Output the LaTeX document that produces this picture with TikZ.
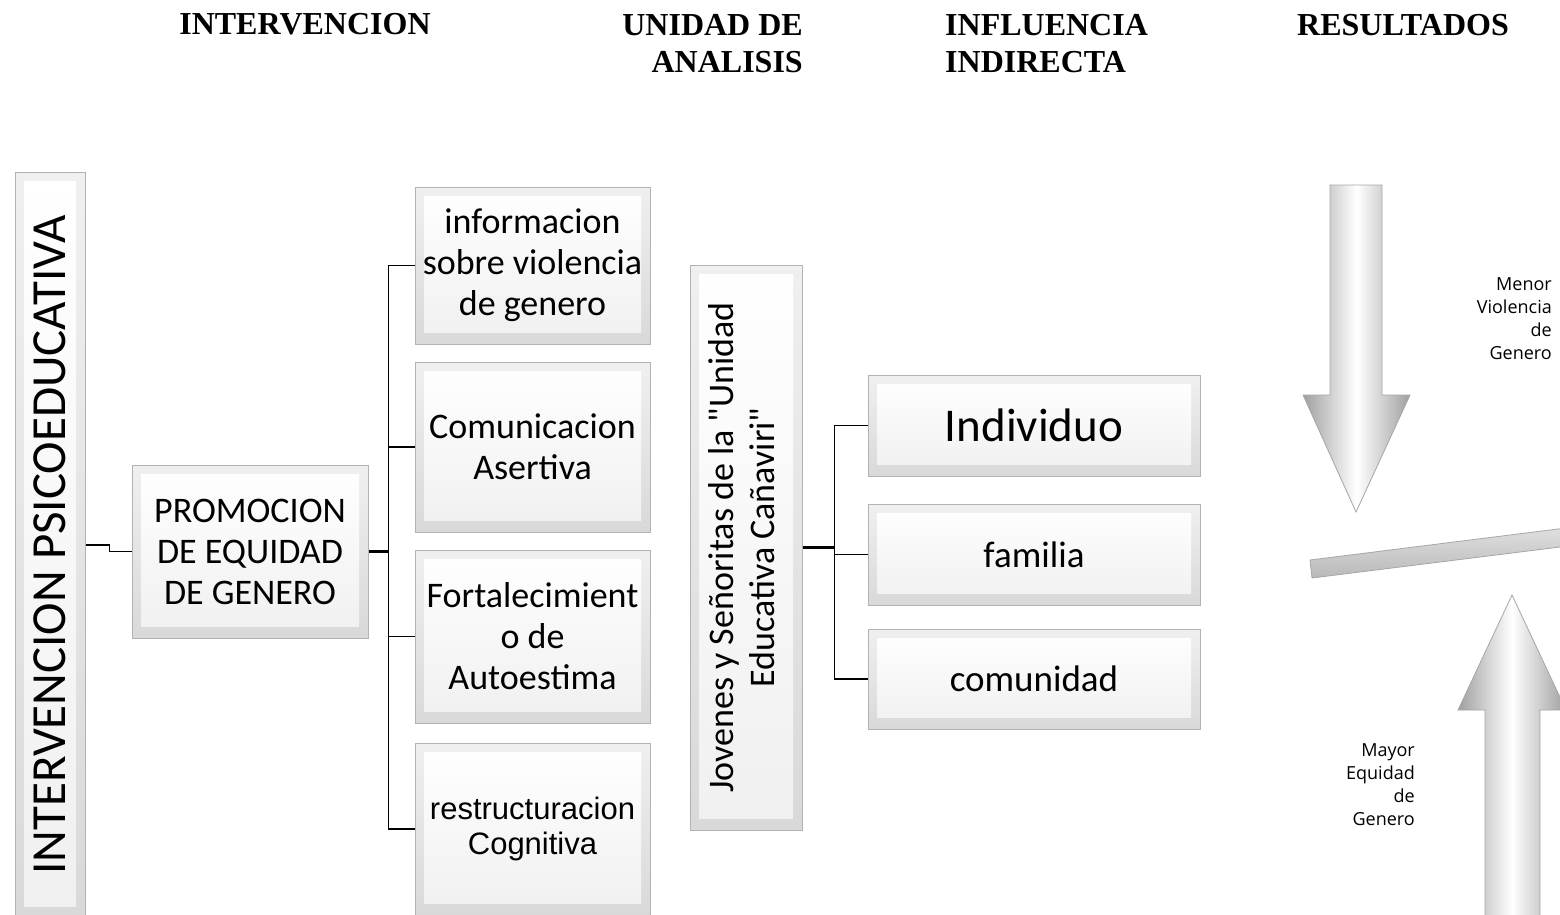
\documentclass[tikz,border=0pt]{standalone}
\usepackage{fontspec}
\usepackage{graphicx}
\setmainfont{Carlito}[Ligatures=TeXOff]
\newfontfamily\arialfont{Liberation Sans}
\newfontfamily\timesfont{Liberation Serif}
\newfontfamily\labelfont{Open Sans}
\usetikzlibrary{positioning}

\tikzset{
  bevel/.style={draw=gray!60, line width=1pt, top color=gray!12, bottom color=gray!30,
    inner sep=2pt, align=center, font=\fontsize{36}{41}\selectfont,
    path picture={
      \shade[top color=white, bottom color=gray!12]
        ([shift={(9pt,-9pt)}]path picture bounding box.north west) rectangle
        ([shift={(-9pt,12pt)}]path picture bounding box.south east);
    }},
  heading/.style={font=\timesfont\bfseries\fontsize{32}{37}\selectfont, inner sep=0pt},
  outcome/.style={font=\labelfont\fontsize{18}{23}\selectfont, align=right, inner sep=0pt},
  link/.style={line width=1.4pt},
  trunk/.style={line width=2.2pt},
  arrowbody/.style={draw=gray!70, line width=0.8pt, left color=gray!75,
    right color=gray!75, middle color=white},
}

\begin{document}
\begin{tikzpicture}[x=1pt, y=-1pt]
    \useasboundingbox (0, 0) rectangle (1560, 915);
    \clip (0, 0) rectangle (1560, 915);
    % headings
    \node [heading] (hint) at (305, 24) {INTERVENCION};
    \node [heading, align=right, anchor=north east] (hunit) at (803, 14) {UNIDAD DE\\ANALISIS};
    \node [heading, align=left, anchor=north west] (hinfl) at (945, 14) {INFLUENCIA\\INDIRECTA};
    \node [heading, anchor=north west] (hres) at (1297, 14) {RESULTADOS};
    %
    % intervencion
    \node [bevel, minimum width=70pt, minimum height=746pt, font=\fontsize{49}{55}\selectfont] (intv) at (50, 545)
      {\rotatebox{90}{INTERVENCION PSICOEDUCATIVA}};
    \node [bevel, minimum width=236pt, minimum height=173pt] (promo) at (250, 551.5)
      {PROMOCION\\DE EQUIDAD\\DE GENERO};
    %
    \node [bevel, minimum width=235pt, minimum height=157pt] (info) at (532.5, 265.5)
      {informacion\\sobre violencia\\de genero};
    \node [bevel, minimum width=235pt, minimum height=170pt] (comu) at (532.5, 447)
      {Comunicacion\\Asertiva};
    \node [bevel, minimum width=235pt, minimum height=173pt] (fort) at (532.5, 636.5)
      {Fortalecimient\\o de\\Autoestima};
    \node [bevel, minimum width=235pt, minimum height=172pt, font=\arialfont\fontsize{31}{35}\selectfont] (rest) at (532.5, 829)
      {restructuracion\\Cognitiva};
    %
    % unidad de analisis
    \node [bevel, minimum width=112pt, minimum height=565pt] (jov) at (746, 547.5)
      {\rotatebox{90}{\begin{tabular}{@{}c@{}}Jovenes y Señoritas de la "Unidad\\Educativa Cañaviri"\end{tabular}}};
    %
    % influencia indirecta
    \node [bevel, minimum width=332pt, minimum height=101pt, font=\fontsize{47}{52}\selectfont] (indiv) at (1034, 425.5) {Individuo};
    \node [bevel, minimum width=332pt, minimum height=101pt, font=\fontsize{37}{42}\selectfont] (fam) at (1034, 554.5) {familia};
    \node [bevel, minimum width=332pt, minimum height=100pt, font=\fontsize{37}{42}\selectfont] (comun) at (1034, 679) {comunidad};
    %
    % connectors
    \draw [link] (intv.east) -- ++(24, 0) |- (promo.west);
    \coordinate (b1) at ([xshift=20pt]promo.east);
    \draw [trunk] (promo.east) -- (b1);
    \foreach \n in {info, comu, fort, rest}
      \draw [link] (b1) |- (\n.west);
    \coordinate (b2) at ([xshift=32pt]jov.east);
    \draw [trunk] (jov.east) -- (b2);
    \foreach \n in {indiv, fam, comun}
      \draw [link] (b2) |- (\n.west);
    %
    % resultados
    \draw [arrowbody] (1330, 185) -- (1382, 185) -- (1382, 395) -- (1410, 395)
      -- (1356, 512) -- (1303, 395) -- (1330, 395) -- cycle;
    \draw [draw=gray!70, line width=0.8pt, top color=gray!25, bottom color=gray!55]
      (1310, 560) -- (1566, 528) -- (1568, 546) -- (1312, 578) -- cycle;
    \draw [arrowbody] (1485, 935) -- (1485, 710) -- (1458, 710) -- (1512, 595)
      -- (1566, 710) -- (1540, 710) -- (1540, 935) -- cycle;
    %
    \node [outcome, anchor=north east] (menor) at (1552, 277) {Menor\\Violencia\\de\\Genero};
    \node [outcome, anchor=north east] (mayor) at (1415, 743) {Mayor\\Equidad\\de\\Genero};
  \end{tikzpicture}
\end{document}
